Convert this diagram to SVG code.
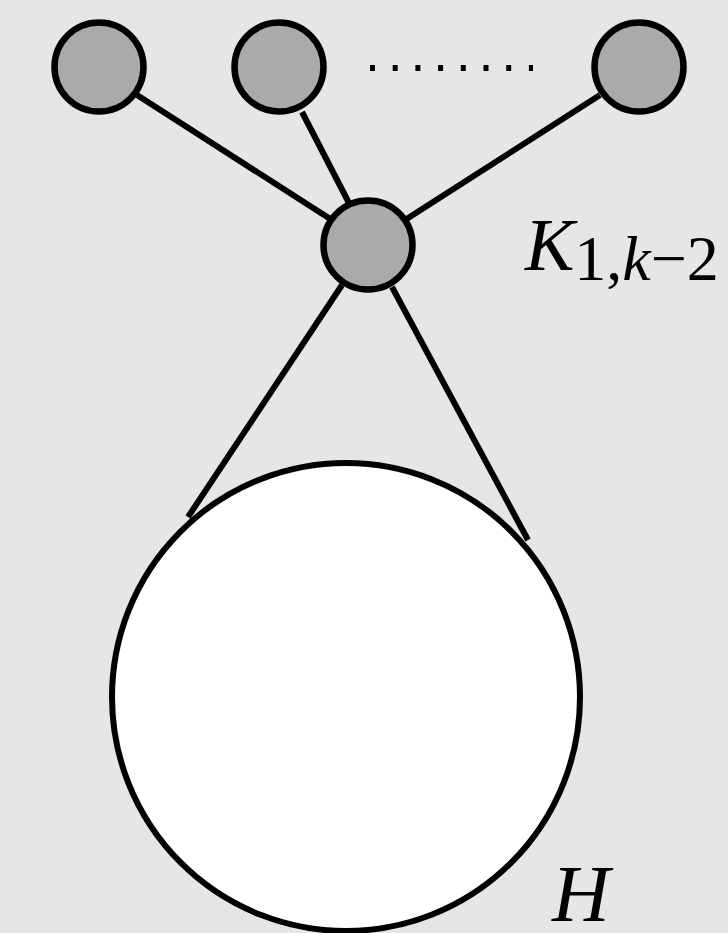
<svg xmlns="http://www.w3.org/2000/svg" width="728" height="933" viewBox="0 0 728 933">
<style>
.node{fill:#aaaaaa;stroke:#000;stroke-width:6.5}
.big{fill:#fff;stroke:#000;stroke-width:6}
.edge{stroke:#000;stroke-width:6;fill:none}
.t{font-family:'Liberation Serif','Times New Roman',serif;fill:#000}
.it{font-style:italic}
</style>
<rect width="728" height="933" fill="#e6e6e6"/>
<g id="edges">
<line class="edge" x1="137" y1="95" x2="335" y2="222"/>
<line class="edge" x1="302" y1="112" x2="350" y2="205"/>
<line class="edge" x1="600" y1="95" x2="405" y2="220"/>
<line class="edge" x1="342" y1="285" x2="188" y2="517"/>
<line class="edge" x1="392" y1="287" x2="528" y2="540"/>
</g>
<g id="H">
<circle class="big" cx="346" cy="697" r="234"/>
<text class="t it" x="552" y="921" font-size="80">H</text>
</g>
<g id="v1"><circle class="node" cx="99" cy="67" r="44.5"/></g>
<g id="v2"><circle class="node" cx="279" cy="67" r="44.5"/></g>
<g id="v3"><circle class="node" cx="639" cy="67" r="44.5"/></g>
<g id="center"><circle class="node" cx="368" cy="245" r="44.5"/></g>
<g id="dots"><line x1="370" y1="68" x2="533" y2="68" stroke="#000" stroke-width="6" stroke-dasharray="5 17.7"/></g>
<g id="label">
<text class="t" x="525" y="270" font-size="74"><tspan class="it">K</tspan><tspan font-size="64" dy="10">1,</tspan><tspan class="it" font-size="64">k</tspan><tspan font-size="64">−2</tspan></text>
</g>
</svg>
